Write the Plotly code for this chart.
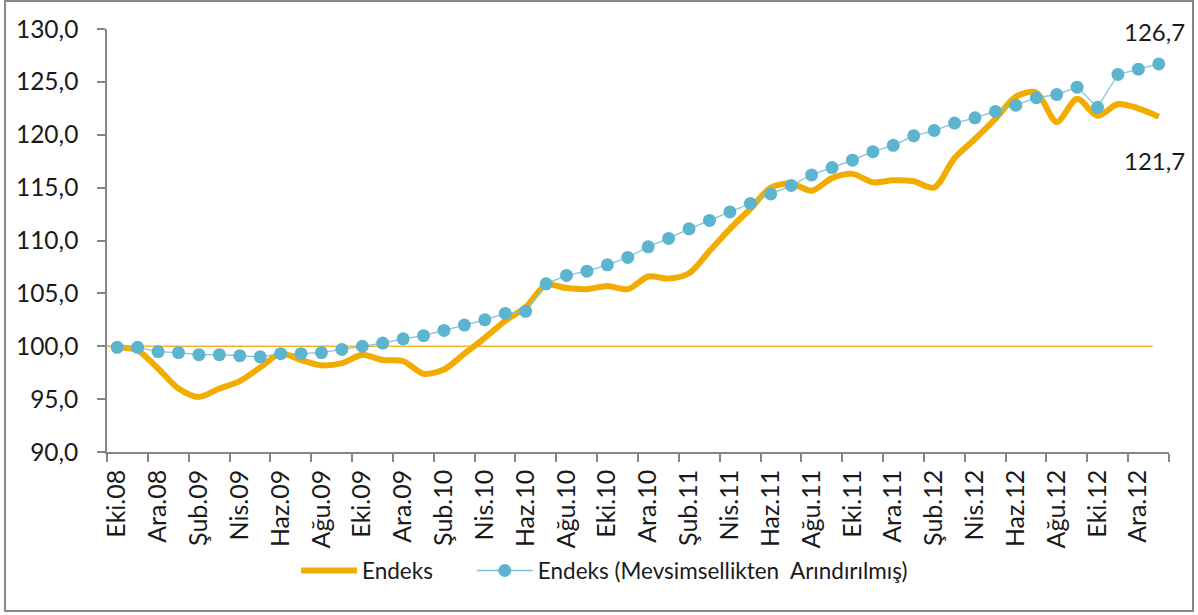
import plotly.graph_objects as go

# ---- data ----
month_abbr = ["Oca", "Şub", "Mar", "Nis", "May", "Haz", "Tem", "Ağu", "Eyl", "Eki", "Kas", "Ara"]
start_year, start_month = 2008, 10   # Eki.08
n_months = 52                        # through Oca.13
categories = []
for k in range(n_months):
    m = (start_month - 1 + k) % 12
    y = start_year + (start_month - 1 + k) // 12
    categories.append(f"{month_abbr[m]}.{y % 100:02d}")

endeks = [
    99.9, 99.6, 97.9, 96.0, 95.2, 96.0, 96.7, 98.0, 99.3, 98.7,
    98.2, 98.4, 99.2, 98.7, 98.6, 97.4, 97.8, 99.3, 100.8, 102.4,
    103.7, 105.8, 105.5, 105.4, 105.7, 105.4, 106.6, 106.4, 106.9, 109.0,
    111.1, 113.0, 115.0, 115.4, 114.7, 115.9, 116.3, 115.5, 115.7, 115.6,
    115.0, 117.8, 119.6, 121.5, 123.6, 124.0, 121.2, 123.4, 121.8, 122.9,
    122.5, 121.7,
]
endeks_sa = [
    99.9, 99.9, 99.5, 99.4, 99.2, 99.2, 99.1, 99.0, 99.3, 99.3,
    99.4, 99.7, 100.0, 100.3, 100.7, 101.0, 101.5, 102.0, 102.5, 103.1,
    103.3, 105.9, 106.7, 107.1, 107.7, 108.4, 109.4, 110.2, 111.1, 111.9,
    112.7, 113.5, 114.4, 115.2, 116.2, 116.9, 117.6, 118.4, 119.0, 119.9,
    120.4, 121.1, 121.6, 122.2, 122.8, 123.5, 123.8, 124.5, 122.6, 125.7,
    126.2, 126.7,
]
series_names = ["Endeks", "Endeks (Mevsimsellikten  Arındırılmış)"]
base_value = 100.0
y_min, y_max, y_step = 90, 130, 5

ORANGE = "#F2AC00"
BLUE = "#5DB4CE"
BLUE_LINE = "#7EC4DA"
GREY = "#868686"
TEXT = "#1a1a1a"
FONT = "Lato"


def fmt(v):
    return f"{v:.1f}".replace(".", ",")


fig = go.Figure()
fig.add_trace(go.Scatter(
    x=categories, y=endeks, name=series_names[0], mode="lines",
    line=dict(color=ORANGE, width=6, shape="spline", smoothing=0.8),
    legend="legend",
))
fig.add_trace(go.Scatter(
    x=categories, y=endeks_sa, name=series_names[1], mode="lines+markers",
    line=dict(color=BLUE_LINE, width=1.3),
    marker=dict(color=BLUE, size=13),
    legend="legend2",
))

# baseline reference at 100
fig.add_shape(type="line", xref="x", yref="y", x0=-0.5, x1=50.7,
              y0=base_value, y1=base_value, line=dict(color="#F5B622", width=1.5),
              layer="below")

# end-point data labels
fig.add_annotation(x=categories[-1], y=endeks_sa[-1], text=fmt(endeks_sa[-1]),
                   showarrow=False, yshift=32, xshift=-4,
                   font=dict(family=FONT, size=24, color=TEXT))
fig.add_annotation(x=categories[-1], y=endeks[-1], text=fmt(endeks[-1]),
                   showarrow=False, yshift=-44, xshift=-4,
                   font=dict(family=FONT, size=24, color=TEXT))

# outer chart border
fig.add_shape(type="rect", xref="paper", yref="paper",
              x0=-0.0960, x1=1.0226, y0=-0.3759, y1=1.0662,
              line=dict(color=GREY, width=2), layer="below")

legend_common = dict(orientation="h", y=-0.281, yanchor="middle", xanchor="left",
                     font=dict(family=FONT, size=22.5, color=TEXT),
                     itemwidth=56, bgcolor="rgba(0,0,0,0)")

fig.update_layout(
    width=1198, height=615,
    margin=dict(l=107, r=29, t=29, b=163, autoexpand=False),
    paper_bgcolor="white", plot_bgcolor="white",
    separators=",.",
    font=dict(family=FONT, size=22, color=TEXT),
    showlegend=True,
    legend=dict(x=0.178, **legend_common),
    legend2=dict(x=0.3435, **legend_common),
)
fig.update_xaxes(
    type="category", categoryorder="array", categoryarray=categories,
    range=[-0.5, n_months - 0.5], automargin=False,
    tickmode="linear", tick0=0, dtick=2, tickson="boundaries",
    ticks="outside", ticklen=8, tickcolor=GREY, tickwidth=1.5,
    tickangle=-90, showline=True, linecolor=GREY, linewidth=1.5,
    showgrid=False, zeroline=False, ticklabelstandoff=6,
    tickfont=dict(family=FONT, size=25, color=TEXT),
)
fig.update_yaxes(
    range=[y_min, y_max], tickmode="linear", tick0=y_min, dtick=y_step,
    tickformat=".1f", ticks="outside", ticklen=8, tickcolor=GREY, tickwidth=1.5,
    showline=True, linecolor=GREY, linewidth=1.5, showgrid=False, zeroline=False,
    ticklabelstandoff=14, automargin=False,
    tickfont=dict(family=FONT, size=24.5, color=TEXT),
)

fig.write_html("out.html", config={"displayModeBar": False},
               post_script="document.body.style.margin='0px';")
